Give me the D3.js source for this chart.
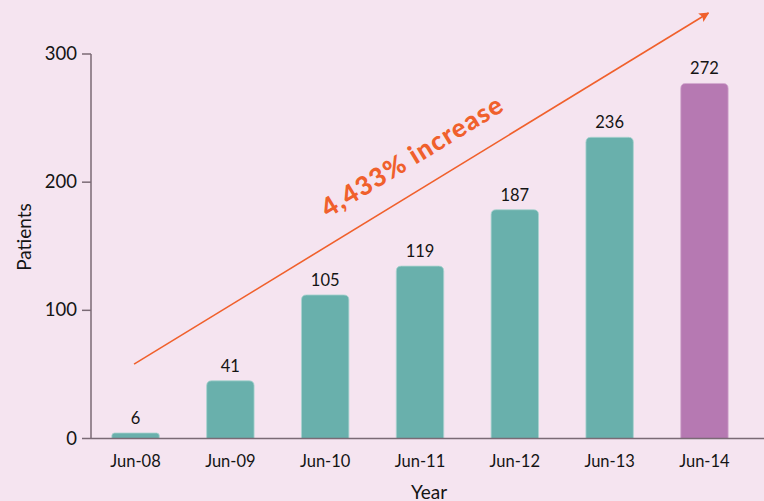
<!DOCTYPE html>
<html lang="en">
<head>
  <meta charset="utf-8">
  <title>Patients by year</title>
  <script src="https://d3js.org/d3.v7.min.js"></script>
  <style>
  body {
    margin: 0;
    background: #f5e4f0;
    font-family: Lato, "Open Sans", sans-serif;
  }

  .tick-label, .bar-label {
    fill: #141414;
    font-size: 16.5px;
  }

  .axis-title {
    fill: #141414;
    font-size: 19px;
  }

  .callout {
    fill: #f0602c;
    font-size: 26px;
    font-weight: 900;
    letter-spacing: 1.2px;
  }
  </style>
</head>
<body>
<script>

// Chart data
var years = ["Jun-08", "Jun-09", "Jun-10", "Jun-11", "Jun-12", "Jun-13", "Jun-14"];
var barValues = [4.3, 45, 112, 134.5, 178.5, 235, 277];
var barLabels = ["6", "41", "105", "119", "187", "236", "272"];
var yTicks = [0, 100, 200, 300];
var calloutText = "4,433% increase";

// Display constants
var width = 764;
var height = 501;
var x0 = 91, x1 = 749;
var yBottom = 438.5, yTop = 54;

var teal = "#69b0ac";
var purple = "#b679b2";
var orange = "#f0602c";
var axisColor = "#7a6a75";

var svg = d3.select("body")
  .append("svg")
  .attr("width", width)
  .attr("height", height);

var x = d3.scaleBand()
  .domain(years)
  .range([x0, x1])
  .paddingInner(0.5)
  .paddingOuter(0.22);

var y = d3.scaleLinear()
  .domain([0, 300])
  .range([yBottom, yTop]);

var bars = years.map(function(d, i) {
  return {year: d, value: barValues[i], label: barLabels[i]};
});

// Bars with rounded top corners
function barPath(d) {
  var left = x(d.year), w = x.bandwidth();
  var top = y(d.value), bottom = y(0);
  var r = Math.min(5, (bottom - top) / 2);
  return "M" + left + "," + bottom +
    "V" + (top + r) +
    "Q" + left + "," + top + " " + (left + r) + "," + top +
    "H" + (left + w - r) +
    "Q" + (left + w) + "," + top + " " + (left + w) + "," + (top + r) +
    "V" + bottom + "Z";
}

svg.selectAll(".bar")
  .data(bars)
  .enter().append("path")
  .attr("class", "bar")
  .attr("d", barPath)
  .attr("fill", function(d, i) { return i == bars.length - 1 ? purple : teal; })
  .attr("stroke", function(d, i) { return i == bars.length - 1 ? "#d3a9cf" : "#a9d3cf"; })
  .attr("stroke-width", 0.8);

svg.selectAll(".bar-label")
  .data(bars)
  .enter().append("text")
  .attr("class", "bar-label")
  .attr("text-anchor", "middle")
  .attr("x", function(d) { return x(d.year) + x.bandwidth() / 2; })
  .attr("y", function(d) { return y(d.value) - 9; })
  .text(function(d) { return d.label; });

// Axes drawn by hand
var axisG = svg.append("g").attr("stroke", axisColor).attr("stroke-width", 1.5);

axisG.append("line")
  .attr("x1", x0).attr("x2", x0)
  .attr("y1", y(300)).attr("y2", y(0));

axisG.append("line")
  .attr("x1", x0).attr("x2", x1 + 15)
  .attr("y1", y(0)).attr("y2", y(0));

axisG.selectAll(".ytick")
  .data(yTicks)
  .enter().append("line")
  .attr("x1", x0 - 9).attr("x2", x0)
  .attr("y1", function(d) { return y(d); })
  .attr("y2", function(d) { return y(d); });

svg.selectAll(".ylabel")
  .data(yTicks)
  .enter().append("text")
  .attr("class", "tick-label")
  .attr("text-anchor", "end")
  .attr("x", x0 - 14)
  .attr("y", function(d) { return y(d) + 6; })
  .style("font-size", "18.5px")
  .text(function(d) { return d; });

svg.selectAll(".xlabel")
  .data(years)
  .enter().append("text")
  .attr("class", "tick-label")
  .attr("text-anchor", "middle")
  .attr("x", function(d) { return x(d) + x.bandwidth() / 2; })
  .attr("y", 467)
  .text(function(d) { return d; });

svg.append("text")
  .attr("class", "axis-title")
  .attr("text-anchor", "middle")
  .attr("x", 429)
  .attr("y", 499)
  .text("Year");

svg.append("text")
  .attr("class", "axis-title")
  .attr("text-anchor", "middle")
  .attr("transform", "translate(31,237) rotate(-90)")
  .text("Patients");

// Trend arrow and callout
var arrowStart = [x(years[0]) + x.bandwidth() / 2 - 1.5, y(58)];
var arrowEnd = [x(years[6]) + x.bandwidth() / 2 + 4, y(332)];

svg.append("defs").append("marker")
  .attr("id", "head")
  .attr("viewBox", "0 0 10 10")
  .attr("refX", 9)
  .attr("refY", 5)
  .attr("markerWidth", 10)
  .attr("markerHeight", 10)
  .attr("markerUnits", "userSpaceOnUse")
  .attr("orient", "auto")
  .append("path")
  .attr("d", "M0,0 L10,5 L0,10 L2,5 Z")
  .attr("fill", orange);

svg.append("line")
  .attr("x1", arrowStart[0]).attr("y1", arrowStart[1])
  .attr("x2", arrowEnd[0]).attr("y2", arrowEnd[1])
  .attr("stroke", orange)
  .attr("stroke-width", 1.6)
  .attr("marker-end", "url(#head)");

var angle = Math.atan2(arrowEnd[1] - arrowStart[1], arrowEnd[0] - arrowStart[0]) * 180 / Math.PI;

svg.append("text")
  .attr("class", "callout")
  .attr("text-anchor", "middle")
  .attr("transform", "translate(417,164) rotate(" + angle + ")")
  .text(calloutText);

</script>
</body>
</html>
